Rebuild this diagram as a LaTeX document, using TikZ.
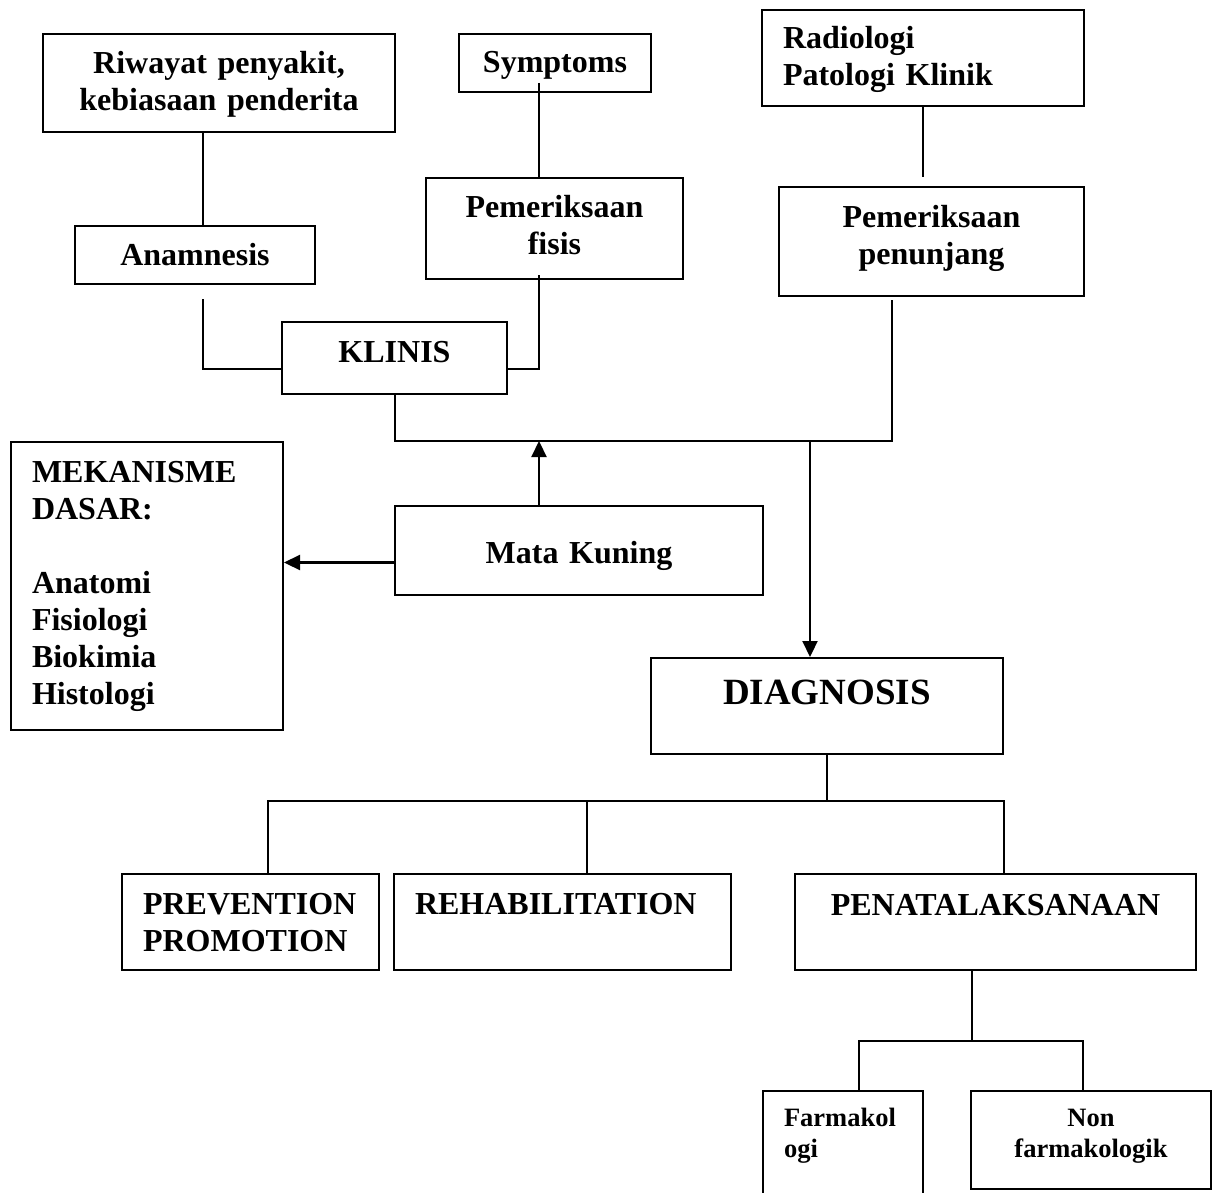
\documentclass[tikz,border=0pt]{standalone}
\usepackage{fontspec}
\setmainfont{Liberation Serif}
\usetikzlibrary{arrows.meta}
\newcommand{\szmain}{\fontsize{32}{37}\selectfont\bfseries}
\newcommand{\szbig}{\fontsize{37}{41}\selectfont\bfseries}
\newcommand{\szsmall}{\fontsize{26.5}{31}\selectfont\bfseries}
\tikzset{
  box/.style={draw, line width=2pt, anchor=north west, inner ysep=0pt, inner xsep=0pt, align=center, font=\szmain},
  lbox/.style={box, align=left, inner xsep=21pt},
  dims/.style n args={3}{text width=#1, text height=#2, text depth=#3},
  wire/.style={line width=2pt},
  arr/.style={line width=2.2pt, -{Triangle[length=16pt,width=15pt]}},
}
\begin{document}
\begin{tikzpicture}[x=1pt,y=-1pt]
\useasboundingbox (0,0) rectangle (1212,1193);
\begin{scope}[every node/.style={box}]
    \node (riwayat) [dims={352pt}{40pt}{58pt}] at (42,33) {Riwayat penyakit,\\kebiasaan penderita};
    \node (symptoms) [dims={192pt}{39pt}{19pt}] at (458,33) {Symptoms};
    \node (radiologi) [lbox, dims={280pt}{39pt}{57pt}] at (761,9) {Radiologi\\Patologi Klinik};
    \node (anamnesis) [dims={240pt}{39pt}{19pt}] at (74,225) {Anamnesis};
    \node (fisis) [dims={257pt}{39pt}{62pt}] at (425,177) {Pemeriksaan\\fisis};
    \node (penunjang) [dims={305pt}{40pt}{69pt}] at (778,186) {Pemeriksaan\\penunjang};
    \node (klinis) [dims={225pt}{40pt}{32pt}] at (281,321) {KLINIS};
    \node (mekanisme) [lbox, dims={230pt}{40pt}{248pt}] at (10,441) {MEKANISME\\DASAR:\\[37pt]Anatomi\\Fisiologi\\Biokimia\\Histologi};
    \node (matakuning) [dims={368pt}{57pt}{32pt}] at (394,505) {Mata Kuning};
    \node (diagnosis) [font=\szbig, dims={352pt}{46pt}{50pt}] at (650,657) {DIAGNOSIS};
    \node (prevention) [lbox, dims={215pt}{40pt}{56pt}] at (121,873) {PREVENTION\\PROMOTION};
    \node (rehab) [lbox, dims={295pt}{40pt}{56pt}] at (393,873) {REHABILITATION};
    \node (penata) [dims={401pt}{41pt}{55pt}] at (794,873) {PENATALAKSANAAN};
    \node (farmako) [lbox, font=\szsmall, dims={118pt}{35pt}{90pt}] at (762,1090) {Farmakol\\ogi};
    \node (nonfarmako) [font=\szsmall, dims={240pt}{35pt}{63pt}] at (970,1090) {Non\\farmakologik};
\end{scope}

\coordinate (bus) at (0,441);
\coordinate (tree) at (0,801);
\coordinate (split) at (0,1041);
\coordinate (kl-l) at ([yshift=-11pt]klinis.west);
\coordinate (kl-r) at ([yshift=-11pt]klinis.east);
\coordinate (pj-foot) at ([xshift=-40pt,yshift=-3pt]penunjang.south);
\coordinate (mk-l) at ([yshift=-12pt]matakuning.west);

\begin{scope}[wire]
    \draw ([xshift=-16pt]riwayat.south) -- ([xshift=-16pt]riwayat.south |- anamnesis.north);
    \draw ([xshift=-16pt,yshift=10pt]symptoms.south) -- ([xshift=-16pt]symptoms.south |- fisis.north);
    \draw (radiologi.south) -- ([yshift=9pt]radiologi.south |- penunjang.north);
    \draw ([xshift=8pt,yshift=-14pt]anamnesis.south) |- (kl-l);
    \draw ([xshift=-16pt,yshift=5pt]fisis.south) |- (kl-r);
    \draw (klinis.south) -- (klinis.south |- bus) -- (pj-foot |- bus) -- (pj-foot);
    \draw (diagnosis.south) -- (diagnosis.south |- tree);
    \draw ([xshift=17pt]prevention.north) |- (diagnosis.east |- tree) -- (diagnosis.east |- penata.north);
    \draw ([xshift=24pt]rehab.north) -- ([xshift=24pt]rehab.north |- tree);
    \draw ([xshift=-24pt]penata.south) -- ([xshift=-24pt]penata.south |- split);
    \draw ([xshift=16pt]farmako.north) |- ([xshift=-8pt]nonfarmako.north |- split) -- ([xshift=-8pt]nonfarmako.north);
\end{scope}

\draw[arr] ([xshift=-40pt]matakuning.north) -- ([xshift=-40pt]matakuning.north |- bus);
\draw[arr] (mk-l) -- (mekanisme.east |- mk-l);
\draw[arr] ([xshift=-17pt]diagnosis.north |- bus) -- ([xshift=-17pt]diagnosis.north);
\end{tikzpicture}
\end{document}
